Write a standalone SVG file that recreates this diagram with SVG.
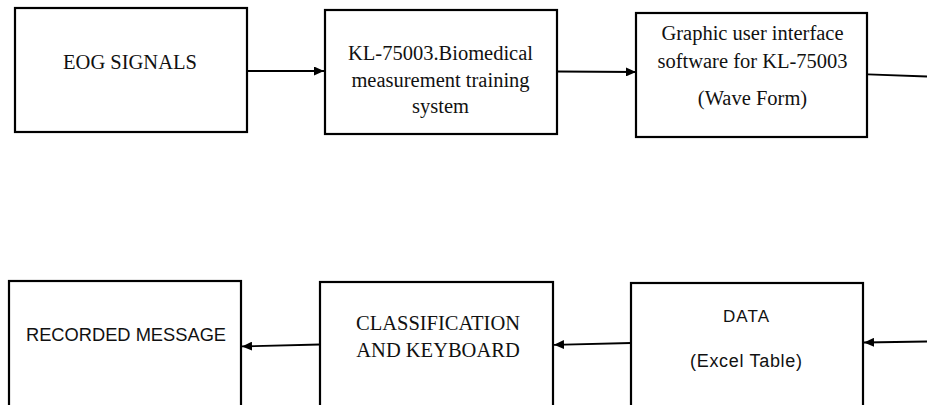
<svg xmlns="http://www.w3.org/2000/svg" width="927" height="405" viewBox="0 0 927 405">
<style>
.box{fill:#ffffff;stroke:#000000;stroke-width:2.2}
.serif{font-family:"Liberation Serif","Times New Roman",serif;font-size:20.5px;fill:#111111;text-anchor:middle}
.sans{font-family:"Liberation Sans",Arial,sans-serif;fill:#111111;text-anchor:middle}
.conn{stroke:#000000;stroke-width:1.8;fill:none}
</style>
<defs>
<marker id="arr" markerUnits="userSpaceOnUse" markerWidth="10" markerHeight="9" refX="10" refY="4.5" orient="auto">
<path d="M0,0 L10,4.5 L0,9 z" fill="#000000"/>
</marker>
</defs>
<rect width="927" height="405" fill="#ffffff"/>
<g id="connectors">
<line class="conn" x1="248" y1="71" x2="324" y2="71" marker-end="url(#arr)"/>
<line class="conn" x1="558" y1="71.5" x2="636" y2="72" marker-end="url(#arr)"/>
<line class="conn" x1="868" y1="74.3" x2="927" y2="76.5"/>
<line class="conn" x1="927" y1="341.5" x2="864" y2="342.5" marker-end="url(#arr)"/>
<line class="conn" x1="631" y1="343" x2="554" y2="344.8" marker-end="url(#arr)"/>
<line class="conn" x1="320" y1="344.5" x2="242" y2="346.4" marker-end="url(#arr)"/>
</g>
<g id="eog-signals">
<rect class="box" x="15" y="8" width="232" height="124"/>
<text class="serif" x="130" y="68.5">EOG SIGNALS</text>
</g>
<g id="kl-75003">
<rect class="box" x="325" y="10" width="232" height="124"/>
<text class="serif" x="440.5" y="60">KL-75003.Biomedical</text>
<text class="serif" x="440.5" y="87">measurement training</text>
<text class="serif" x="440.5" y="113">system</text>
</g>
<g id="gui-software">
<rect class="box" x="636" y="13" width="231" height="124"/>
<text class="serif" x="752.5" y="40">Graphic user interface</text>
<text class="serif" x="752.5" y="68">software for KL-75003</text>
<text class="serif" x="752.5" y="104.5">(Wave Form)</text>
</g>
<g id="recorded-message">
<rect class="box" x="9" y="281" width="232" height="140"/>
<text class="sans" x="126" y="340.7" font-size="18.3">RECORDED MESSAGE</text>
</g>
<g id="classification">
<rect class="box" x="320" y="282" width="233" height="140"/>
<text class="serif" x="438" y="330">CLASSIFICATION</text>
<text class="serif" x="438" y="356.5">AND KEYBOARD</text>
</g>
<g id="data">
<rect class="box" x="631" y="283" width="232" height="140"/>
<text class="sans" x="746" y="321.7" font-size="17" textLength="46" lengthAdjust="spacing">DATA</text>
<text class="sans" x="746" y="366.5" font-size="18" textLength="112" lengthAdjust="spacing">(Excel Table)</text>
</g>
</svg>
